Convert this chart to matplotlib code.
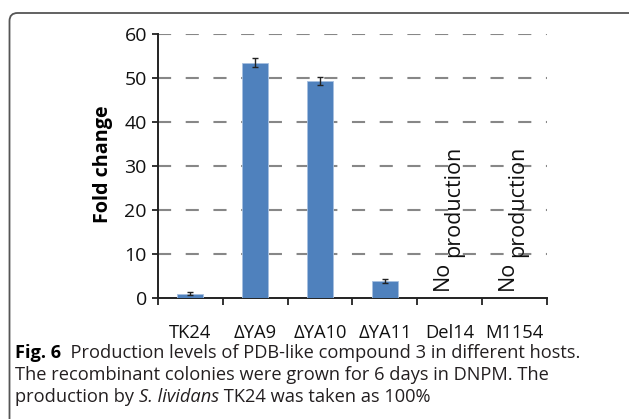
import matplotlib
matplotlib.use("Agg")
import matplotlib.pyplot as plt
import numpy as np
from matplotlib.path import Path
from matplotlib.patches import PathPatch

categories = ["TK24", "ΔYA9", "ΔYA10", "ΔYA11", "Del14", "M1154"]
values = [1.0, 53.5, 49.3, 3.8, 0, 0]
errors = [0.35, 1.1, 0.9, 0.5, 0, 0]
no_prod = ["Del14", "M1154"]
yticks = [0, 10, 20, 30, 40, 50, 60]
caption_lines = [
    [("Fig. 6", {"fontweight": "bold", "color": "#000000"}),
     ("  Production levels of PDB-like compound 3 in different hosts.", {})],
    [("The recombinant colonies were grown for 6 days in DNPM. The", {})],
    [("production by ", {}), ("S. lividans", {"style": "italic"}), (" TK24 was taken as 100%", {})],
]

W, H = 629, 419
FONT = "Open Sans"
fig = plt.figure(figsize=(W / 100, H / 100), dpi=100)
fig.patch.set_facecolor("white")
fig.canvas.draw()
renderer = fig.canvas.get_renderer()

def fx(px):
    return px / W

def fy(py):
    return 1 - py / H

def fit(t, target, horizontal=True):
    for _ in range(3):
        bb = t.get_window_extent(renderer)
        cur = bb.width if horizontal else bb.height
        t.set_fontsize(t.get_fontsize() * target / cur)

ax = fig.add_axes([fx(158), fy(298), fx(547) - fx(158), fy(34) - fy(298)])
x = np.arange(len(categories))
ax.bar(x, values, width=0.4, color="#4F81BD", edgecolor="#A7C0E0", linewidth=0.6, zorder=3)
for xi, v, e in zip(x, values, errors):
    if e > 0:
        ax.errorbar(xi, v, yerr=e, fmt="none", ecolor="#222222", elinewidth=1.0,
                    capsize=2.5, capthick=1.0, zorder=4)

ax.set_xlim(-0.5, len(categories) - 0.5)
ax.set_ylim(0, 60)
ax.set_yticks(yticks)
ax.set_yticklabels([str(t) for t in yticks], fontsize=14, family=FONT, color="#111111")
for t in yticks[1:]:
    ax.axhline(t, color="#878787", linewidth=1.5, linestyle=(0.0, (6.3, 7.0)), zorder=1)

ax.set_xticks(np.arange(len(categories) + 1) - 0.5, minor=False)
ax.set_xticklabels([])
ax.tick_params(axis="x", which="major", direction="out", length=5, width=1.3, color="#222222")
ax.tick_params(axis="y", direction="out", length=4, width=1.3, color="#222222", pad=4)
ax.set_xticks(x, minor=True)
ax.set_xticklabels(categories, minor=True, fontsize=13.2, family=FONT, color="#111111")
ax.tick_params(axis="x", which="minor", length=0, pad=19)

for s in ["top", "right"]:
    ax.spines[s].set_visible(False)
for s in ["left", "bottom"]:
    ax.spines[s].set_linewidth(1.4)
    ax.spines[s].set_color("#222222")

yl = fig.text(fx(103), fy(164), "Fold change", rotation=90, ha="center", va="center",
              fontsize=13, fontweight="bold", family=FONT, color="#000000")
fit(yl, 118, horizontal=False)

# "No production" labels (vertical, word "production" on a slightly shifted baseline)
px_per_unit = (547 - 158) / len(categories)
px_per_val = (298 - 34) / 60
for name in no_prod:
    i = categories.index(name)
    ax.text(i - 2.0 / px_per_unit, 8 / px_per_val, "No", rotation=90, rotation_mode="anchor",
            ha="left", va="baseline", fontsize=15.5, family=FONT, color="#111111")
    ax.text(i + 9.0 / px_per_unit, 41 / px_per_val, "production", rotation=90,
            rotation_mode="anchor", ha="left", va="baseline", fontsize=15.5,
            family=FONT, color="#111111")

# border
r = 8
x0, y0 = 9.5, 13
verts = [(fx(W), fy(y0)), (fx(x0 + r), fy(y0)), (fx(x0), fy(y0)), (fx(x0), fy(y0 + r)), (fx(x0), fy(H))]
codes = [Path.MOVETO, Path.LINETO, Path.CURVE3, Path.CURVE3, Path.LINETO]
fig.add_artist(PathPatch(Path(verts, codes), transform=fig.transFigure, fill=False,
                         edgecolor="#555555", linewidth=1.3))

# caption: find size so that first line spans 15..583 px
def put(parts, px, py, size):
    cur = px
    objs = []
    for txt, kw in parts:
        style = {"fontsize": size, "family": FONT, "color": "#231f20"}
        style.update(kw)
        t = fig.text(fx(cur), fy(py), txt, va="baseline", ha="left", **style)
        cur += t.get_window_extent(renderer).width
        objs.append(t)
    return objs, cur - px

size = 12.0
for _ in range(3):
    objs, w = put(caption_lines[0], 15, 358, size)
    for o in objs:
        o.remove()
    size *= 568 / w
baselines = [358, 380, 402]
for parts, b in zip(caption_lines, baselines):
    put(parts, 15, b, size)

fig.savefig("out.png", dpi=100)
